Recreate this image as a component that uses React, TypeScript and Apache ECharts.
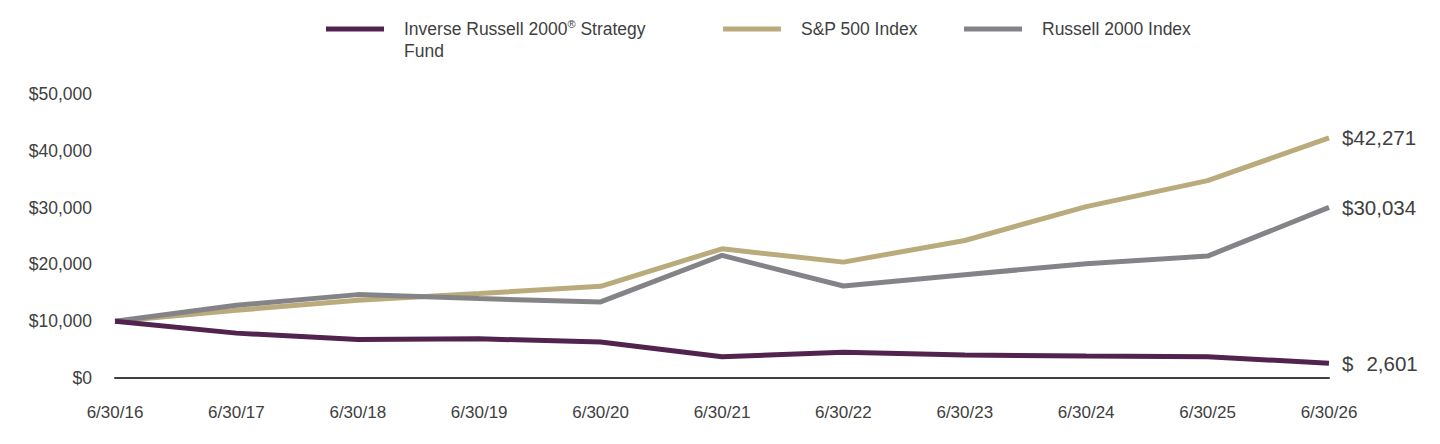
import React, { useEffect, useRef } from "react";
import * as echarts from "echarts";

const categories = ["6/30/16", "6/30/17", "6/30/18", "6/30/19", "6/30/20", "6/30/21", "6/30/22", "6/30/23", "6/30/24", "6/30/25", "6/30/26"];
const fundValues = [10000, 7900, 6780, 6900, 6320, 3730, 4550, 4030, 3860, 3740, 2601];
const sp500Values = [10000, 11930, 13680, 14860, 16140, 22750, 20400, 24210, 30180, 34740, 42271];
const russellValues = [10000, 12800, 14680, 13980, 13390, 21580, 16200, 18190, 20120, 21460, 30034];
const yTicks = { min: 0, max: 50000, interval: 10000 };

const FUND = "Inverse Russell 2000® Strategy Fund";
const SP = "S&P 500 Index";
const RUS = "Russell 2000 Index";

const TEXT = "#404040";
const FONT = "Arial, 'Liberation Sans', sans-serif";

const fmt = (v: number) => "$" + Math.round(v).toLocaleString("en-US");

export default function App() {
  const ref = useRef<HTMLDivElement>(null);
  useEffect(() => {
    if (!ref.current) return;
    const chart = echarts.init(ref.current, undefined, { renderer: "svg" });
    const legendBase = {
      orient: "horizontal" as const,
      padding: 0,
      itemWidth: 58,
      itemHeight: 5,
      icon: "rect",
      selectedMode: false,
    };
    chart.setOption({
      animation: false,
      textStyle: { fontFamily: FONT },
      legend: [
        {
          ...legendBase,
          left: 326,
          top: -4,
          data: [FUND],
          formatter: () => "Inverse Russell 2000{sup|®} Strategy\nFund",
          textStyle: {
            fontFamily: FONT,
            fontSize: 17.5,
            color: TEXT,
            lineHeight: 22,
            padding: [22, 0, 0, 15],
            rich: {
              sup: { fontSize: 11, verticalAlign: "top", lineHeight: 22, padding: [0, 0, 8, 0], color: TEXT, fontFamily: FONT },
            },
          },
        },
        {
          ...legendBase,
          left: 723,
          top: 18,
          data: [SP],
          textStyle: { fontFamily: FONT, fontSize: 17.5, color: TEXT, lineHeight: 22, padding: [0, 0, 0, 15] },
        },
        {
          ...legendBase,
          left: 964,
          top: 18,
          data: [RUS],
          textStyle: { fontFamily: FONT, fontSize: 17.5, color: TEXT, lineHeight: 22, padding: [0, 0, 0, 15] },
        },
      ],
      grid: { left: 115, right: 111, top: 94, bottom: 66, containLabel: false },
      xAxis: {
        type: "category",
        data: categories,
        boundaryGap: false,
        axisLine: { show: true, lineStyle: { color: TEXT, width: 2 } },
        axisTick: { show: false },
        axisLabel: { color: TEXT, fontSize: 17, fontFamily: FONT, margin: 26 },
        splitLine: { show: false },
      },
      yAxis: {
        type: "value",
        min: yTicks.min,
        max: yTicks.max,
        interval: yTicks.interval,
        axisLine: { show: false },
        axisTick: { show: false },
        splitLine: { show: false },
        axisLabel: { color: TEXT, fontSize: 17.5, fontFamily: FONT, margin: 23, formatter: (v: number) => fmt(v) },
      },
      series: [
        {
          name: SP,
          type: "line",
          data: sp500Values,
          symbol: "none",
          lineStyle: { color: "#B9AB7C", width: 5 },
          itemStyle: { color: "#B9AB7C" },
          endLabel: { show: true, distance: 13, color: TEXT, fontSize: 20.5, fontFamily: FONT, formatter: (p: any) => fmt(p.value) },
        },
        {
          name: RUS,
          type: "line",
          data: russellValues,
          symbol: "none",
          lineStyle: { color: "#848488", width: 5 },
          itemStyle: { color: "#848488" },
          endLabel: { show: true, distance: 13, color: TEXT, fontSize: 20.5, fontFamily: FONT, formatter: (p: any) => fmt(p.value) },
        },
        {
          name: FUND,
          type: "line",
          data: fundValues,
          symbol: "none",
          lineStyle: { color: "#52234E", width: 5 },
          itemStyle: { color: "#52234E" },
          endLabel: {
            show: true,
            distance: 13,
            color: TEXT,
            fontSize: 20.5,
            fontFamily: FONT,
            formatter: (p: any) => "{d|$}{n|" + Math.round(p.value).toLocaleString("en-US") + "}",
            rich: {
              d: { fontSize: 20.5, color: TEXT, fontFamily: FONT },
              n: { fontSize: 20.5, color: TEXT, fontFamily: FONT, padding: [0, 0, 0, 13] },
            },
          },
        },
      ],
    });
    return () => chart.dispose();
  }, []);
  return <div ref={ref} style={{ width: 1440, height: 444, margin: -8 }} />;
}
